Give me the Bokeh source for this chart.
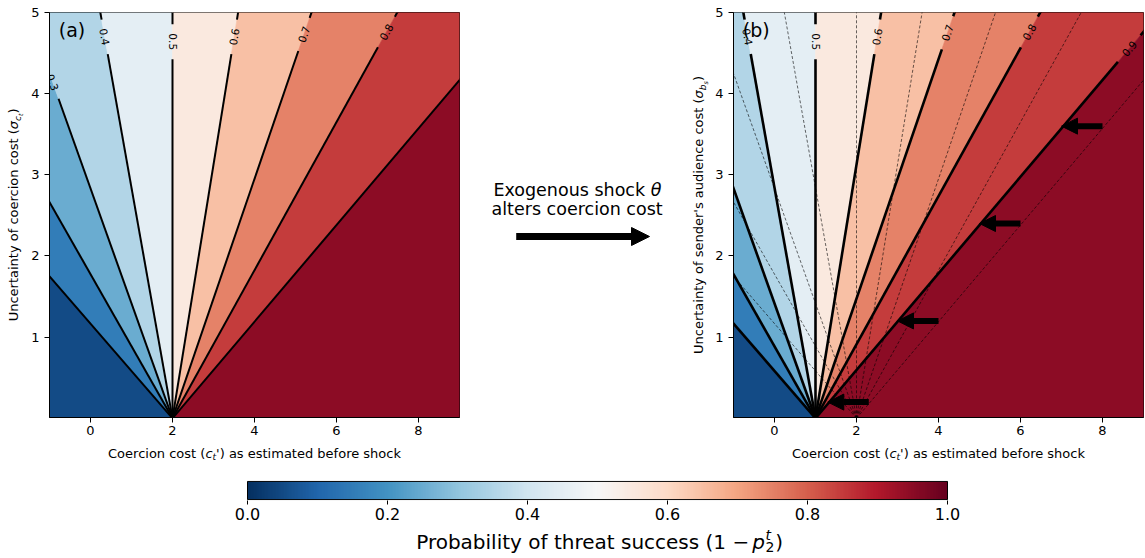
import numpy as np
from bokeh.plotting import figure
from bokeh.models import Range1d, Label, Arrow, NormalHead, LinearColorMapper, FixedTicker, PrintfTickFormatter
from bokeh.layouts import row, column
from bokeh.embed import file_html
from bokeh.resources import INLINE
from bokeh.core.properties import value

FONT = "DejaVu Sans"

# ---------------- data ----------------
levels = [0.1, 0.2, 0.3, 0.4, 0.5, 0.6, 0.7, 0.8, 0.9]
# horizontal run of each contour per unit of uncertainty (dx / d sigma)
contour_slope = [-1.714, -1.126, -0.706, -0.352, 0.0, 0.320, 0.678, 1.096, 1.680]
origin_before = 2.0     # coercion cost where the contours meet, panel (a)
origin_after = 1.0      # after the shock, panel (b)
label_levels_a = [0.3, 0.4, 0.5, 0.6, 0.7, 0.8]
label_sigma_a = [4.14, 4.70, 4.64, 4.70, 4.73, 4.76]
label_levels_b = [0.4, 0.5, 0.6, 0.7, 0.8, 0.9]
label_sigma_b = [4.70, 4.64, 4.70, 4.75, 4.76, 4.555]
arrow_sigma = [0.2, 1.2, 2.4, 3.6]
arrow_tail = [2.3, 4.0, 6.0, 8.0]
shock = -1.0
x_ticks = [0, 2, 4, 6, 8]
y_ticks = [1, 2, 3, 4, 5]
cbar_ticks = [0.0, 0.2, 0.4, 0.6, 0.8, 1.0]
X0, X1, Y0, Y1 = -1.0, 9.0, 0.01, 5.0

# RdBu_r colour map stops
RDBU_R = ["#053061", "#2166ac", "#4393c3", "#92c5de", "#d1e5f0", "#f7f7f7",
          "#fddbc7", "#f4a582", "#d6604d", "#b2182b", "#67001f"]


def _rgb(h):
    return [int(h[i:i + 2], 16) for i in (1, 3, 5)]


def cmap(t):
    pos = min(max(t, 0.0), 1.0) * 10
    i = min(int(pos), 9)
    f = pos - i
    a, b = _rgb(RDBU_R[i]), _rgb(RDBU_R[i + 1])
    return "#%02x%02x%02x" % tuple(int(round(u + (v - u) * f)) for u, v in zip(a, b))


pal256 = [cmap(k / 255) for k in range(256)]
bounds = [0.0] + levels + [1.0]
band_colors = [cmap((bounds[i] + bounds[i + 1]) / 2) for i in range(10)]

# approximate DejaVu Sans advance widths (em) for composing math-like labels
W = {' ': .318, '(': .390, ')': .390, "'": .275, '.': .318, '\u2212': .838,
     'C': .698, 'E': .632, 'P': .603, 'U': .732,
     'a': .613, 'b': .635, 'c': .550, 'd': .635, 'e': .615, 'f': .352, 'g': .635,
     'h': .634, 'i': .278, 'k': .579, 'l': .278, 'm': .974, 'n': .634, 'o': .612,
     'p': .635, 'r': .411, 's': .521, 't': .392, 'u': .634, 'x': .592, 'y': .592,
     '\u03c3': .634, '\u03b8': .612}
for d in "0123456789":
    W[d] = .636

BASE_CORR = 0.35   # observed downward shift of the rendered baseline, in em


def tw(s, size):
    return sum(W.get(ch, .6) for ch in s) * size


def lab(p, text, x, y, size, style="normal", align="left", angle=0.0, units="data"):
    corr = BASE_CORR * size
    if angle == 0.0:
        y = y - corr if units == "data" else y + corr
    else:
        x = x - corr
    p.add_layout(Label(x=x, y=y, x_units=units, y_units=units, text=text,
                       text_font=FONT, text_font_size="%.1fpx" % size,
                       text_font_style=style, text_align=align,
                       text_baseline="alphabetic", angle=angle, text_color="black"))


def strip(w, h, xr, yr, top=0, bottom=0):
    # blank canvas whose data coordinates are the page pixels (y downwards)
    s = figure(width=w, height=h, x_range=Range1d(*xr), y_range=Range1d(*yr),
               output_backend="svg", toolbar_location=None,
               min_border_left=0, min_border_right=0, min_border_top=top, min_border_bottom=bottom,
               x_axis_location=None, y_axis_location=None)
    s.xgrid.visible = False
    s.ygrid.visible = False
    s.outline_line_color = None
    return s


def make_panel(width, border_left, border_right):
    p = figure(width=width, height=443, x_range=Range1d(X0, X1), y_range=Range1d(Y0, Y1),
               output_backend="svg", toolbar_location=None,
               min_border_left=border_left, min_border_right=border_right,
               min_border_top=12, min_border_bottom=26)
    p.xgrid.visible = False
    p.ygrid.visible = False
    p.outline_line_color = "black"
    p.outline_line_alpha = 1.0
    p.outline_line_width = 1
    for ax in (p.xaxis[0], p.yaxis[0]):
        ax.axis_label = None
        ax.major_tick_out = 5
        ax.major_tick_in = 0
        ax.minor_tick_out = 0
        ax.minor_tick_in = 0
        ax.major_label_text_font = FONT
        ax.major_label_text_font_size = "13px"
        ax.major_label_text_color = "black"
        ax.axis_line_color = "black"
        ax.major_tick_line_color = "black"
    p.xaxis.ticker = FixedTicker(ticks=x_ticks)
    p.yaxis.ticker = FixedTicker(ticks=y_ticks)
    p.xaxis.major_label_standoff = 3
    p.yaxis.major_label_standoff = 5
    return p


def draw_fan(p, center):
    far, top, bot = 60.0, 6.0, -1.0
    sl = [None] + contour_slope + [None]
    xs, ys = [], []
    for i in range(10):
        px, py = [center], [0.0]
        lo, hi = sl[i], sl[i + 1]
        if lo is None:
            px += [center, -far, -far]
            py += [bot, bot, top]
        else:
            px.append(center + lo * top)
            py.append(top)
        if hi is None:
            px += [far, far, center]
            py += [top, bot, bot]
        else:
            px.append(center + hi * top)
            py.append(top)
        xs.append(px)
        ys.append(py)
    p.patches(xs=xs, ys=ys, fill_color=band_colors, line_color=band_colors, line_width=0.6)


def draw_lines(p, center, fw, fh, lw, lab_levels, lab_sigmas):
    kx = fw / (X1 - X0)
    ky = fh / (Y1 - Y0)
    gap = 17.5
    lx, ly = [], []
    tx, ty, tt, ta = [], [], [], []
    for lev, s in zip(levels, contour_slope):
        plen = np.hypot(s * kx, ky)
        if lev in lab_levels:
            yl = lab_sigmas[lab_levels.index(lev)]
            dy = gap / plen
            segs = [(0.0, yl - dy), (yl + dy, 6.0)]
            th = np.arctan2(ky, s * kx)
            if th >= np.pi / 2 - 1e-9:
                th -= np.pi
            tx.append(center + s * yl)
            ty.append(yl)
            tt.append("%.1f" % lev)
            ta.append(th)
        else:
            segs = [(0.0, 6.0)]
        for a, b in segs:
            lx.append([center + s * a, center + s * b])
            ly.append([a, b])
    p.multi_line(xs=lx, ys=ly, line_color="black", line_width=lw)
    p.text(x=tx, y=ty, text=tt, angle=ta, text_align="center", text_baseline="middle",
           text_font=value(FONT), text_font_size=value("10.5px"), text_color="black")


def y_label(p, xb, yc, main, sym, sub1, sub2):
    big, s1, s2 = 13.0, 9.1, 6.4
    w_main = tw(main, big)
    rest = [(sym, big, "italic", 0.0), (sub1, s1, "italic", 2.8),
            (sub2, s2, "italic", 4.6), (")", big, "normal", 0.0)]
    total = w_main + sum(tw(t, sz) for t, sz, _, _ in rest)
    j = yc + total / 2 - w_main
    lab(p, main, xb, j, big, align="right", angle=np.pi / 2)
    s = j
    for t, sz, st, off in rest:
        lab(p, t, xb + off, s, sz, style=st, angle=np.pi / 2)
        s -= tw(t, sz)


def x_label(p, xc, yb):
    big, sm = 13.0, 9.1
    main = "Coercion cost ("
    rest = [("c", big, "italic", 0.0), ("t", sm, "italic", 2.6),
            ("') as estimated before shock", big, "normal", 0.0)]
    w_main = tw(main, big)
    total = w_main + sum(tw(t, sz) for t, sz, _, _ in rest)
    j = xc - total / 2 + w_main
    lab(p, main, j, yb, big, align="right")
    s = j
    for t, sz, st, off in rest:
        lab(p, t, s, yb + off, sz, style=st)
        s += tw(t, sz)


# ---------------- left strip with y label of (a) ----------------
la = strip(28, 443, (0, 28), (417, 12), top=12, bottom=26)
y_label(la, 18.0, 214.5, "Uncertainty of coercion cost (", "\u03c3", "c", "t")

# ---------------- panel (a) ----------------
FWA, FHA = 410, 405
pa = make_panel(441, 21, 10)
draw_fan(pa, origin_before)
draw_lines(pa, origin_before, FWA, FHA, 2.0, label_levels_a, label_sigma_a)
lab(pa, "(a)", 9.3, FHA - 24.5, 19, units="screen")

# ---------------- middle: shock annotation + y label of (b) ----------------
pm = strip(242, 443, (469, 711), (417, 12), top=12, bottom=26)
mid_x = 576.6
f17 = 17.5
w1 = tw("Exogenous shock ", f17)
t1 = w1 + tw("\u03b8", f17)
j1 = mid_x - t1 / 2 + w1
lab(pm, "Exogenous shock", j1 - tw(" ", f17), 195.7, f17, align="right")
lab(pm, "\u03b8", j1, 195.7, f17, style="italic")
lab(pm, "alters coercion cost", mid_x, 215.0, f17, align="center")
pm.add_layout(Arrow(x_start=515.7, y_start=236, x_end=649.0, y_end=236,
                    line_width=7, line_color="black",
                    end=NormalHead(size=18, fill_color="black", line_color="black", line_width=1)))
y_label(pm, 703.0, 214.5, "Uncertainty of sender's audience cost (", "\u03c3", "b", "s")

# ---------------- panel (b) ----------------
FWB, FHB = 410, 405
pb = make_panel(433, 22, 1)
draw_fan(pb, origin_after)
dxs, dys = [], []
for s in contour_slope:
    dxs.append([origin_before, origin_before + s * 6.0])
    dys.append([0.0, 6.0])
pb.multi_line(xs=dxs, ys=dys, line_color="black", line_width=0.7, line_alpha=0.85, line_dash="3 2")
draw_lines(pb, origin_after, FWB, FHB, 2.6, label_levels_b, label_sigma_b)
for xt, yv in zip(arrow_tail, arrow_sigma):
    pb.add_layout(Arrow(x_start=xt, y_start=yv, x_end=xt + shock, y_end=yv, line_width=6,
                        line_color="black",
                        end=NormalHead(size=16, fill_color="black", line_color="black", line_width=1)))
lab(pb, "(b)", 9.3, FHB - 24.5, 19, units="screen")

# ---------------- x labels strip ----------------
xl = strip(1144, 23, (0, 1144), (466, 443))
x_label(xl, 254.0, 457.5)
x_label(xl, 938.0, 457.5)

# ---------------- colour bar (full-width frame, bar spans 0..1) ----------------
CB_L, CB_W, PAGE_W = 247.0, 700.0, 1144.0
pc = figure(width=1144, height=61,
            x_range=Range1d(-CB_L / CB_W, (PAGE_W - CB_L) / CB_W), y_range=Range1d(-0.05, 1.05),
            output_backend="svg", toolbar_location=None,
            min_border_left=0, min_border_right=0, min_border_top=14, min_border_bottom=27,
            y_axis_location=None)
pc.xgrid.visible = False
pc.ygrid.visible = False
pc.outline_line_color = None
mapper = LinearColorMapper(palette=pal256, low=0, high=1)
grad = np.linspace(0, 1, 700).reshape(1, -1)
pc.image(image=[grad], x=0, y=0, dw=1, dh=1, color_mapper=mapper)
pc.quad(left=[0], right=[1], bottom=[0], top=[1], fill_color=None, line_color="black", line_width=1)
ax = pc.xaxis[0]
ax.ticker = FixedTicker(ticks=cbar_ticks)
ax.formatter = PrintfTickFormatter(format="%.1f")
ax.major_tick_out = 4
ax.major_tick_in = 0
ax.minor_tick_out = 0
ax.minor_tick_in = 0
ax.axis_line_color = None
ax.major_tick_line_color = "black"
ax.major_label_text_font = FONT
ax.major_label_text_font_size = "16px"
ax.major_label_text_color = "black"
ax.major_label_standoff = 3
ax.axis_label = None

# ---------------- colour bar label strip ----------------
cl = strip(1144, 30, (0, 1144), (557, 527))
jc = 751.7
ybc = 548.0
lab(cl, "Probability of threat success (1 \u2212", jc - 3.0, ybc, 20, align="right")
lab(cl, "p", jc, ybc, 20, style="italic")
wp = tw("p", 20)
lab(cl, "2", jc + wp + 0.5, ybc + 3.5, 14)
lab(cl, "t", jc + wp + 0.5, ybc - 8.5, 14, style="italic")
lab(cl, ")", jc + wp + tw("2", 14) + 1.5, ybc, 20)

layout = column(row(la, pa, pm, pb), xl, pc, cl)
open("out.html", "w").write(file_html(layout, INLINE))
